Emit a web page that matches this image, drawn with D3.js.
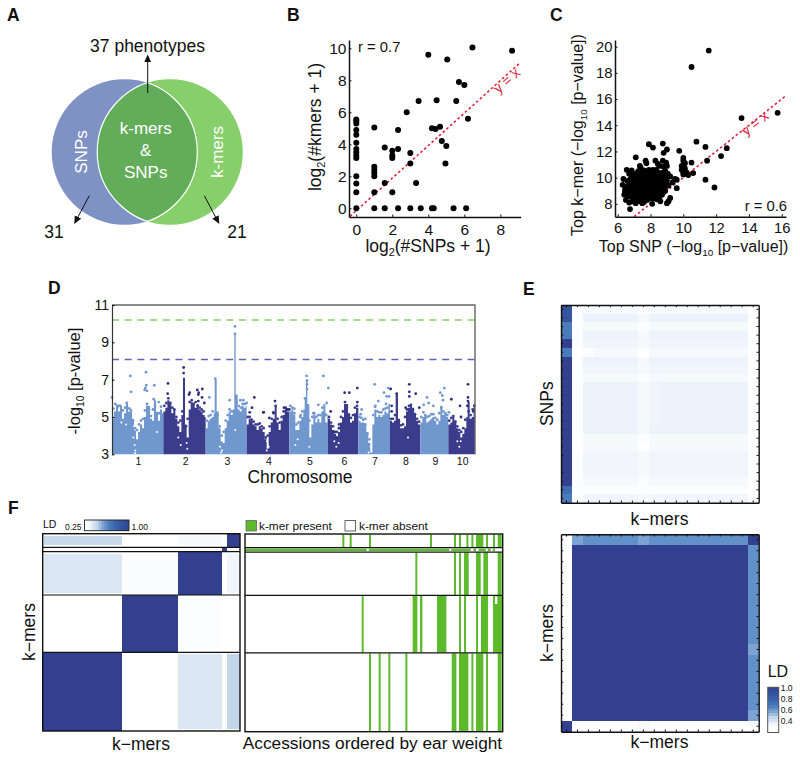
<!DOCTYPE html>
<html><head><meta charset="utf-8">
<script src="https://cdn.jsdelivr.net/npm/d3@7"></script>
<style>
html,body{margin:0;padding:0;background:#fff}
svg{display:block}
text{font-family:"Liberation Sans",Arial,sans-serif;fill:#111}
</style></head><body><div id="c"></div>
<script>
// ---------- Panel A
const vennCounts = {shared: 37, snpsOnly: 31, kmersOnly: 21};
const vennSets = [{name:"SNPs", cx:-1, color:"#7f92c4"}, {name:"k-mers", cx:1, color:"#86cf6b"}];

// ---------- Panel B
const bSnps  = [0,0,0,0,0,0,0,0,0,0,0,0,0,0, 1,1,1,1,1,1,1, 1.58,1.58,1.58, 2,2,2,2, 2.32,2.32,2.32, 2.8, 3,3,3, 3.32, 3.46, 3.58, 4, 4.2,4.2, 4.3, 4.4, 4.46, 4.65, 4.75, 4.95, 5, 5.05, 5.4, 5.55, 5.7, 6, 6.1, 6.2, 6.45, 8.65];
const bKmers = [0,1,1.55,2,3.15,3.3,3.5,3.7,4.1,4.6,4.9,5.3,5.45,5.55, 0,1,2,2.2,2.4,2.6,5.05, 0,1.58,3.8, 1,3.15,3.3,3.6, 0,3.7,4.9, 6, 0,2.8,3.45, 1.58, 6.7, 0, 9.6, 0,5, 0, 4.95, 6.75, 5.1, 4.2, 2.8, 3.9, 9.3, 0, 6.7, 7.9, 7.7, 0, 5.6, 10.05, 9.85];

// ---------- Panel C
const cOutliers = [[11.55,19.7],[10.5,18.45],[15.75,14.95],[13.55,14.55],[10.8,12.75],[11.35,12.35],[12.65,12.25],[12.3,11.65],[11.45,11.3],[10.5,11.15],[11.35,9.85],[11.9,9.25],[10.6,10.35],[7.9,12.55],[8.75,12.6],[8.15,12.3],[9,12.15],[8.8,11.9],[9.75,12.05],[7.1,11.55]];
const cUpper = [[6.35,9.9],[6.3,9.45],[6.55,10.6],[6.85,10.55],[6.7,10.3],[7.35,10.9],[7.4,10.75],[7.7,11.3],[7.75,11.1],[7.9,10.6],[8.15,10.6],[8.3,11.3],[8.45,11.05],[8.55,10.9],[8.75,11.3],[8.95,11.15],[8.8,10.85],[8.75,10.4],[8.9,10.5],[9.05,10.3],[9.2,10.1],[9.5,9.9],[9.6,9.85],[9.35,9.65],[9.6,9.2],[9,10.9]];
const cRightColumn = [[10,11.5],[10,11.3],[10.1,11.1],[9.9,10.9],[9.9,10.6],[10,10.4],[10,10.25],[10.2,10.4],[10.3,10.2],[10.1,10.7]];
const cLower = [[9.2,8.45],[9.1,8.2],[9,8.05],[8.6,8.2],[8.4,8.35],[8.1,8],[7.5,8.05],[8.9,9],[9.1,9.4],[8.9,9.7],[8.85,9.2],[6.75,7.6],[6.4,8.7],[6.5,8.3],[6.6,8.6],[6.7,8.1],[6.9,8.2],[7,8.4],[7.1,8.05],[7.3,8.3],[7.4,8.2],[7.6,8.15],[7.8,8.3]];
const cCluster = [
[6.45,9.1],[6.6,8.9],[6.55,9.3],[6.7,9.5],[6.6,9.75],[6.8,8.55],[6.85,8.85],[6.95,9.15],[6.8,9.3],[6.9,9.7],[6.85,10],[7,10.25],[7.05,8.65],[7.1,8.95],[7.15,9.3],[7.05,9.55],[7.2,9.85],[7.1,10.1],[7.2,8.4],[7.3,8.7],[7.35,9.05],[7.3,9.4],[7.4,9.6],[7.3,9.95],[7.4,10.25],[7.25,10.5],[7.5,8.45],[7.55,8.8],[7.5,9.15],[7.6,9.4],[7.5,9.75],[7.6,10],[7.55,10.3],[7.6,10.55],[7.7,8.5],[7.75,8.75],[7.7,9.05],[7.8,9.3],[7.7,9.6],[7.8,9.9],[7.75,10.2],[7.9,10.4],[7.95,8.6],[7.9,8.9],[8,9.2],[7.95,9.5],[8,9.75],[7.95,10.05],[8.1,10.3],[8.15,8.4],[8.15,8.75],[8.2,9.05],[8.15,9.35],[8.2,9.6],[8.15,9.9],[8.3,10.15],[8.4,8.65],[8.35,8.95],[8.4,9.25],[8.35,9.5],[8.45,9.8],[8.45,10.4],[8.55,8.55],[8.6,8.85],[8.55,9.15],[8.65,9.4],[8.6,9.65],[8.6,10.05],[8.7,8.7],[8.75,9.1],[8.7,9.85],[8.8,10.1],[8.95,10.05],[8.35,10.6],[7.05,9.85],[6.65,9.05],[7.2,8.6],[6.95,9.45],[7.45,8.95],[7.85,8.45],
[6.55,8.75],[6.75,8.75],[6.7,9.1],[6.45,8.95],[6.9,8.55],[6.95,8.9],[6.75,9.85],[6.95,10.1],[7.15,8.8],[7.2,9.1],[7.25,9.6],[7.15,10.3],[7.35,8.55],[7.42,9.25],[7.42,9.8],[7.35,10.5],[7.6,8.6],[7.62,8.95],[7.65,9.25],[7.68,9.8],[7.7,10.4],[7.85,8.7],[7.88,9.1],[7.85,9.65],[7.9,10.2],[8.05,8.45],[8.05,9],[8.08,9.45],[8.05,9.95],[8.25,8.55],[8.28,9.2],[8.3,9.75],[8.25,10.35],[8.45,8.5],[8.5,9],[8.48,9.6],[8.45,10.1],[8.65,9],[8.7,9.55],[8.8,8.9],[8.85,9.45],[9,9.5],[9,9.8],[8.62,10.3]
];

// ---------- Panel D (positions along the concatenated genome, values are -log10 p)
const chrLabels = ["1","2","3","4","5","6","7","8","9","10"];
const chrLabelPos = [79,221,346,471,594,697,789,882,970,1052];
const chrColors = ["#7197cf","#3c3c8c"];
const chr1Env = [[0,4.9],[6,5.3],[12,5.6],[18,5.3],[24,5.6],[30,4.9],[36,5.2],[42,5.7],[48,5.3],[54,5.3],[60,4.9],[66,4.3],[72,3.8],[78,4.2],[84,4.6],[90,4.4],[96,5],[102,5.6],[108,5.6],[114,4.9],[120,4.8],[126,5.9],[132,5.2],[138,4.8],[144,5.4],[150,5.2],[154,5.2]];
const chr2Env = [[154,5.3],[160,5.5],[166,5.9],[172,5.7],[178,5.2],[184,5.4],[190,4.9],[196,4.5],[202,4.2],[208,5.1],[213,7.1],[219,4.6],[224,3.9],[230,5.4],[236,5.8],[242,5.7],[248,5.5],[254,5.7],[260,5.4],[266,5.3],[272,5.1],[278,5],[281,5]];
const chr3Env = [[281,4.4],[287,4.8],[293,4.9],[299,5],[305,5.2],[308,7],[314,5.3],[320,4.4],[326,3.7],[332,3.6],[338,4.4],[344,4.8],[350,5.3],[356,5.1],[362,5.4],[367,9.4],[371,6.2],[377,5.4],[383,5.3],[389,5.6],[395,5.5],[401,5.6],[404,5.6]];
const chr4Env = [[404,4.6],[410,4.9],[416,4.8],[422,4.6],[428,4.5],[434,4.3],[440,4.5],[446,4.4],[452,4.2],[458,3.8],[464,3.3],[470,4.2],[476,4.7],[482,4.9],[488,5.6],[494,4.7],[500,4.3],[506,4.8],[512,5.1],[518,5.4],[524,5.3],[532,5.3]];
const chr5Env = [[532,5.3],[538,5.4],[544,5.1],[550,4.3],[556,4.3],[562,4.8],[568,5],[574,5.4],[578,6],[582,7],[586,5.7],[592,3.9],[598,4.6],[604,5.1],[610,4.7],[616,4.9],[622,4.7],[628,5.3],[634,5.7],[640,4.7],[646,5],[648,5]];
const chr6Env = [[648,4.9],[654,4.6],[660,4.3],[666,4.1],[672,3.9],[678,4.2],[684,4.7],[690,5],[696,5.7],[702,5.7],[708,5.2],[714,4.7],[720,4.8],[726,5.2],[732,5.5],[739,5.5]];
const chr7Env = [[739,4.8],[745,4.7],[751,4.7],[757,4.6],[763,4.2],[769,3.6],[775,3.1],[781,4.6],[787,5.4],[793,5],[799,5.1],[805,5],[811,5.1],[817,5.3],[823,5.2],[829,5.7],[834,5.7]];
const chr8Env = [[834,4.8],[840,4.7],[846,4.8],[851,6.2],[858,4.9],[864,4.4],[870,4.4],[876,4.5],[882,5.3],[888,5.5],[894,5.7],[900,5.5],[906,5.1],[912,4.8],[918,4.6],[925,4.6]];
const chr9Env = [[925,4.7],[931,5],[937,5.1],[943,4.7],[949,4.8],[955,4.9],[961,5],[967,4.8],[973,4.6],[979,4.8],[985,5.6],[991,5.1],[997,5.2],[1003,5],[1009,5]];
const chr10Env = [[1009,4.6],[1015,4.7],[1021,5],[1027,4.8],[1033,4.4],[1039,4.2],[1045,3.9],[1051,4.1],[1057,4.4],[1063,5],[1067,5.8],[1073,4.9],[1079,5],[1085,5.7],[1089,5.7]];
const chrEnvs = [chr1Env,chr2Env,chr3Env,chr4Env,chr5Env,chr6Env,chr7Env,chr8Env,chr9Env,chr10Env];
const lightHits = [[0,6.05],[55,7.2],[57,6.35],[102,7.4],[100,6.55],[98,6.45],[103,6.7],[105,6.4],[127,6.7],[20,5.6],[15,5.6],[25,5.6],[44,5.75],[125,5.95],[140,5.8],[292,6.05],[353,5.9],[369,9.85],[369,9.45],[394,5.9],[385,5.9],[404,5.75],[310,7.05],[584,7.2],[585,6.95],[585,6.75],[585,6.5],[634,7.2],[649,6.55],[644,5.75],[619,5.65],[547,5.45],[566,5.1],[604,5.2],[579,6],[788,6.75],[816,6.3],[829,6.55],[831,6.1],[824,6.1],[799,5.85],[789,5.55],[749,5.4],[822,5.7],[945,6.05],[935,5.65],[950,5.75],[964,5.6],[997,6.55],[985,6.3],[991,6.15],[993,5.9],[1011,5.25],[746,5.15],[760,4.9]];
const darkHits = [[168,6.8],[167,6.25],[215,7.65],[215,7.35],[233,6.3],[231,6.2],[256,6.45],[259,6.2],[271,6.5],[270,6.05],[259,5.85],[277,5.75],[260,6.3],[427,6.05],[420,5.5],[413,5.25],[455,5.25],[489,5.85],[484,5.25],[454,5.25],[516,5.5],[524,5.4],[532,5.4],[472,4.95],[698,6.3],[712,6.3],[736,6.55],[736,5.8],[656,5.3],[699,5.8],[681,4.4],[666,4.2],[674,3.9],[836,6.5],[892,6.75],[892,6.35],[892,6.1],[911,6.25],[854,6.25],[839,5.3],[839,5.6],[881,5.5],[922,5.5],[1018,5.95],[1044,5.6],[1068,6.75],[1068,6.05],[1068,5.85],[1047,5],[1087,5.6],[1084,5.3],[1066,5.6]];
const lightFringe = [[4,5.45],[10,5.7],[16,5.5],[27,5.3],[33,5.35],[39,5.5],[46,5.5],[52,5.45],[57,5.35],[63,4.8],[69,4.4],[75,4.3],[81,4.6],[87,4.8],[93,4.9],[99,5.35],[105,5.7],[111,5.4],[117,5.05],[123,5.4],[129,5.6],[135,5.2],[141,5.2],[147,5.55],[284,4.8],[290,5.05],[296,5.1],[302,5.3],[317,5.1],[323,4.5],[329,4],[335,4.2],[341,4.8],[347,5.1],[353,5.4],[359,5.3],[374,5.8],[380,5.6],[386,5.5],[392,5.7],[398,5.7],[535,5.6],[541,5.5],[547,5.2],[553,4.6],[559,4.7],[565,5],[571,5.3],[592,4.8],[601,5],[607,5.2],[613,5],[619,5.1],[625,5.1],[631,5.5],[637,5.2],[643,5.1],[742,5],[748,4.95],[754,4.85],[760,4.6],[766,4.1],[772,3.8],[784,5.1],[790,5.6],[796,5.3],[802,5.25],[808,5.25],[814,5.4],[820,5.45],[826,5.5],[928,5],[934,5.25],[940,5.1],[946,5],[952,5.05],[958,5.15],[964,5.15],[970,4.95],[976,4.85],[982,5.2],[988,5.5],[994,5.3],[1000,5.2],[1006,5.1]];
const darkFringe = [[157,5.6],[163,5.75],[169,6],[175,5.75],[181,5.5],[187,5.4],[193,5],[199,4.7],[205,4.8],[211,5.3],[222,4.5],[227,4.9],[233,5.8],[239,5.9],[245,5.7],[251,5.8],[257,5.6],[263,5.5],[269,5.4],[275,5.3],[407,5],[413,5],[419,4.85],[425,4.75],[431,4.6],[437,4.6],[443,4.65],[449,4.5],[455,4.4],[461,3.9],[467,4],[473,4.5],[479,4.9],[485,5.2],[491,5.6],[497,4.9],[503,4.7],[509,5],[515,5.3],[521,5.5],[527,5.4],[651,5],[657,4.7],[663,4.5],[669,4.2],[675,4.2],[681,4.6],[687,5],[693,5.3],[705,5.5],[711,5.1],[717,4.95],[723,5.1],[729,5.5],[735,5.6],[837,4.9],[843,4.9],[849,5.1],[861,4.75],[867,4.55],[873,4.6],[879,5],[885,5.4],[891,5.6],[897,5.65],[903,5.4],[909,5.15],[915,4.9],[921,4.75],[1012,4.8],[1018,4.95],[1024,5.05],[1030,4.75],[1036,4.5],[1042,4.3],[1048,4.2],[1054,4.4],[1060,4.85],[1070,5.3],[1076,5.1],[1082,5.4]];
const gapSpecks = [[64,3.9],[68,3.5],[70,3.2],[72,4.3],[66,4.5],[76,3.9],[69,3.05],[42,4.6],[28,4.7],[135,4.2],[199,3.9],[206,3.5],[224,3.6],[228,4],[226,3.3],[324,3.4],[327,3.1],[330,3.2],[370,4.3],[470,3.4],[464,3.2],[465,3.7],[770,3.1],[776,3.4],[771,3.8],[775,4.2],[888,3.9],[1042,3.4],[1046,3.7],[1036,3.7],[673,3.4],[667,3.7],[680,3.6],[550,3.5],[557,3.8],[592,3.4]];
const yThresholds = [{v:10.2,color:"#85d168"},{v:8.08,color:"#5f63b4"}];

// ---------- Panel E heatmaps (LD values)
const w=.25,d=.28,c=.31,b=.33,a=.35,H=1,m=.6,s=.55,n=.66,k=.85;
const ldUpper = [
[k,d,c,c,c,c,c,d,c,c,c,c,c,c,c,c,c,w],
[k,d,a,a,a,a,a,c,a,a,a,a,a,a,a,a,a,w],
[n,d,c,c,c,c,c,d,c,c,c,c,c,c,c,c,c,w],
[n,d,a,a,a,a,a,c,a,a,a,a,a,a,a,a,a,w],
[H,d,b,b,b,b,b,c,b,b,b,b,b,b,b,b,b,w],
[n,w,d,c,c,c,c,w,c,c,c,c,c,c,c,c,c,w],
[H,d,a,a,a,a,a,c,a,a,a,a,a,a,a,a,a,w],
[H,d,b,b,b,b,b,c,b,b,b,b,b,b,b,b,b,w],
[H,d,c,c,c,c,c,d,c,c,c,c,c,c,c,c,c,w],
[H,d,a,a,a,a,a,c,b,a,a,a,a,a,a,a,a,w],
[H,d,a,a,a,a,a,c,b,a,a,a,a,a,a,a,a,w],
[H,d,a,a,a,a,a,c,b,a,a,a,a,a,a,a,a,w],
[H,d,a,a,a,a,a,c,b,a,a,a,a,a,a,a,a,w],
[H,d,a,a,a,a,a,c,b,a,a,a,a,a,a,a,a,w],
[H,d,a,a,a,a,a,c,a,a,a,a,a,a,a,a,a,w],
[H,d,c,c,c,c,c,d,c,c,c,c,c,c,c,c,c,w],
[H,w,c,c,c,c,c,w,c,c,c,c,c,c,c,c,c,w],
[H,d,b,b,b,b,b,c,b,b,b,b,b,b,b,b,b,w],
[H,d,b,b,b,b,b,c,b,b,b,b,b,b,b,b,b,w],
[H,d,b,b,b,b,b,c,b,b,b,b,b,b,b,b,b,w],
[H,d,c,c,c,c,c,d,c,c,c,c,c,c,c,c,c,w],
[.72,d,d,d,d,d,d,d,d,d,d,d,d,d,d,d,d,w],
[n,d,b,b,b,b,b,c,b,b,b,b,b,b,b,b,b,w]
];
const ldLower = [
[w,s,m,m,m,m,m,s,m,m,m,m,m,m,m,m,m,H],
[d,H,H,H,H,H,H,H,H,H,H,H,H,H,H,H,H,m],
[d,H,H,H,H,H,H,H,H,H,H,H,H,H,H,H,H,m],
[d,H,H,H,H,H,H,H,H,H,H,H,H,H,H,H,H,m],
[d,H,H,H,H,H,H,H,H,H,H,H,H,H,H,H,H,m],
[d,H,H,H,H,H,H,H,H,H,H,H,H,H,H,H,H,m],
[d,H,H,H,H,H,H,H,H,H,H,H,H,H,H,H,H,m],
[d,H,H,H,H,H,H,H,H,H,H,H,H,H,H,H,H,m],
[d,H,H,H,H,H,H,H,H,H,H,H,H,H,H,H,H,m],
[d,H,H,H,H,H,H,H,H,H,H,H,H,H,H,H,H,m],
[d,H,H,H,H,H,H,H,H,H,H,H,H,H,H,H,H,s],
[d,H,H,H,H,H,H,H,H,H,H,H,H,H,H,H,H,m],
[d,H,H,H,H,H,H,H,H,H,H,H,H,H,H,H,H,m],
[d,H,H,H,H,H,H,H,H,H,H,H,H,H,H,H,H,m],
[d,H,H,H,H,H,H,H,H,H,H,H,H,H,H,H,H,m],
[d,H,H,H,H,H,H,H,H,H,H,H,H,H,H,H,H,m],
[d,H,H,H,H,H,H,H,H,H,H,H,H,H,H,H,H,s],
[H,d,d,d,d,d,d,c,d,d,d,d,d,d,d,d,d,d]
];
const ldLegendTicks = [1,.8,.6,.4];

// ---------- Panel F
const fRowEdges = [0,41,54,184,356,592];
const fColEdges = [0,237,407,539,553,592];
const ldBlocks = [
[.44,w,.31,w,H],
[w,w,w,H,w],
[.38,.29,H,w,.34],
[w,H,.28,w,w],
[H,w,.38,w,.45]
];
const presence0 = [[292,6],[314,6],[372,6],[555,6],[627,6],[642,6],[664,6],[679,6],[693,22],[723,6],[744,6],[758,12]];
const presence1 = [[0,365],[371,242],[619,58],[685,8],[701,21],[728,9],[743,7]];
const presence2 = [[511,6],[627,6],[642,6],[657,14],[693,14],[715,14],[758,12]];
const presence3 = [[350,6],[503,14],[525,7],[576,28],[642,6],[657,6],[693,6],[708,21],[744,27]];
const presence4 = [[372,6],[401,6],[430,6],[481,6],[620,14],[642,28],[679,6],[693,22],[723,6],[758,12]];
const presenceRows = [presence0,presence1,presence2,presence3,presence4];
const presenceNotch = [[750,7]];

const svg = d3.select("#c").append("svg").attr("width",800).attr("height",760);

function txt(x,y,str,size,opt={}){
  const t = svg.append("text").attr("x",x).attr("y",y).attr("font-size",size).text(str);
  if(opt.anchor) t.attr("text-anchor",opt.anchor);
  if(opt.weight) t.attr("font-weight",opt.weight);
  if(opt.fill) t.style("fill",opt.fill);
  if(opt.rot!==undefined) t.attr("transform",`rotate(${opt.rot} ${x} ${y})`);
  return t;
}
// text with a subscript: parts = [before, sub, after]
function subTxt(x,y,parts,size,opt={}){
  const t = svg.append("text").attr("x",x).attr("y",y).attr("font-size",size).attr("text-anchor","middle");
  if(opt.rot!==undefined) t.attr("transform",`rotate(${opt.rot} ${x} ${y})`);
  t.append("tspan").text(parts[0]);
  t.append("tspan").attr("dy",size*.22).attr("font-size",size*.62).text(parts[1]);
  t.append("tspan").attr("dy",-size*.22).text(parts[2]);
}
function arrow(x1,y1,x2,y2){
  svg.append("line").attr("x1",x1).attr("y1",y1).attr("x2",x2).attr("y2",y2).attr("stroke","#111").attr("stroke-width",1).attr("marker-end","url(#arr)");
}
svg.append("defs").append("marker").attr("id","arr").attr("viewBox","0 0 10 10").attr("refX",8).attr("refY",5)
  .attr("markerUnits","userSpaceOnUse").attr("markerWidth",8).attr("markerHeight",8).attr("orient","auto")
  .append("path").attr("d","M0,0.5L10,5L0,9.5Z").attr("fill","#111");

[["A",7,21],["B",287,21],["C",550,21],["D",48,294],["E",523,295],["F",8,514]].forEach(p=>txt(p[1],p[2],p[0],17.5,{weight:"bold"}));

// ---------- A
{
  const vx = d3.scaleLinear().domain([-1,1]).range([124.5,170]);
  const cy=152, r=72.8;
  const g = svg.append("g");
  g.selectAll("circle").data(vennSets).join("circle").attr("cx",d=>vx(d.cx)).attr("cy",cy).attr("r",r).attr("fill",d=>d.color);
  svg.select("defs").append("clipPath").attr("id","vclip").append("circle").attr("cx",vx(-1)).attr("cy",cy).attr("r",r);
  g.append("circle").attr("cx",vx(1)).attr("cy",cy).attr("r",r).attr("fill","#63ad5a").attr("clip-path","url(#vclip)");
  g.append("circle").attr("cx",vx(1)).attr("cy",cy).attr("r",r).attr("fill","none").attr("stroke","#fff").attr("stroke-width",1.2).attr("clip-path","url(#vclip)");
  svg.select("defs").append("clipPath").attr("id","vclip2").append("circle").attr("cx",vx(1)).attr("cy",cy).attr("r",r);
  g.append("circle").attr("cx",vx(-1)).attr("cy",cy).attr("r",r).attr("fill","none").attr("stroke","#fff").attr("stroke-width",1.2).attr("clip-path","url(#vclip2)");
  txt(147.5,52,vennCounts.shared+" phenotypes",17.5,{anchor:"middle"});
  arrow(147.7,93,147.7,56);
  arrow(89.3,195.7,75,222.5);
  arrow(204.3,195.7,218.5,222.5);
  txt(54,238,String(vennCounts.snpsOnly),17.5,{anchor:"middle"});
  txt(237,238,String(vennCounts.kmersOnly),17.5,{anchor:"middle"});
  txt(145.7,134,"k-mers",17,{anchor:"middle",fill:"#fff"});
  txt(145.7,156,"&",17,{anchor:"middle",fill:"#fff"});
  txt(145.7,178,"SNPs",17,{anchor:"middle",fill:"#fff"});
  txt(86.5,152,"SNPs",17,{anchor:"middle",fill:"#fff",rot:-90});
  txt(222.5,152,"k-mers",17,{anchor:"middle",fill:"#fff",rot:-90});
}

function scatterAxes(x,y,xt,yt,fs){
  const gx = svg.append("g").attr("transform",`translate(0,${y.range()[0]})`)
    .call(d3.axisBottom(x).tickValues(xt).tickSizeInner(-2.5).tickSizeOuter(0).tickPadding(fs*.42));
  const gy = svg.append("g").attr("transform",`translate(${x.range()[0]},0)`)
    .call(d3.axisLeft(y).tickValues(yt).tickSizeInner(-2.5).tickSizeOuter(0).tickPadding(2.5));
  [gx,gy].forEach(g=>{
    g.selectAll("text").attr("font-size",fs).attr("font-family",null).style("fill","#111");
    g.selectAll("line").attr("stroke","#111");
    g.select(".domain").attr("stroke","#111").attr("stroke-width",1.5);
  });
}

// ---------- B
{
  const x = d3.scaleLinear().domain([-.405,9.13]).range([349,520.7]);
  const y = d3.scaleLinear().domain([-.544,10.52]).range([217,40]);
  svg.append("line").attr("x1",x(-.35)).attr("y1",y(-.5)).attr("x2",x(9.1)).attr("y2",y(9.1))
    .attr("stroke","#e0203c").attr("stroke-width",1.6).attr("stroke-dasharray","2.5 2.5");
  svg.append("g").selectAll("circle").data(bSnps).join("circle").attr("cx",d=>x(d)).attr("cy",(d,i)=>y(bKmers[i])).attr("r",3).attr("fill","#000");
  scatterAxes(x,y,[0,2,4,6,8],[0,2,4,6,8,10],15.5);
  txt(358,52,"r = 0.7",14.8);
  txt(510,84,"y = x",14,{anchor:"middle",fill:"#e0203c",rot:-42});
  subTxt(428,252,["log","2","(#SNPs + 1)"],17.5);
  subTxt(321,127,["log","2","(#kmers + 1)"],17.5,{rot:-90});
}

// ---------- C
{
  const x = d3.scaleLinear().domain([5.835,16.26]).range([615,786]);
  const y = d3.scaleLinear().domain([7.02,20.51]).range([216.7,40]);
  svg.append("line").attr("x1",x(7)).attr("y1",y(7.02)).attr("x2",x(16.25)).attr("y2",y(16.25))
    .attr("stroke","#e0203c").attr("stroke-width",1.6).attr("stroke-dasharray","2.5 2.5");
  const pts = cOutliers.concat(cUpper,cRightColumn,cLower,cCluster);
  svg.append("g").selectAll("circle").data(pts).join("circle").attr("cx",d=>x(d[0])).attr("cy",d=>y(d[1])).attr("r",2.9).attr("fill","#000");
  scatterAxes(x,y,[6,8,10,12,14,16],[8,10,12,14,16,18,20],14.8);
  txt(787,211,"r = 0.6",14.8,{anchor:"end"});
  txt(758,127,"y = x",14,{anchor:"middle",fill:"#e0203c",rot:-38});
  subTxt(693.6,252,["Top SNP (−log","10"," [p−value])"],16);
  subTxt(583,135,["Top k−mer (−log","10"," [p−value])"],16,{rot:-90});
}

// ---------- D
{
  const x = d3.scaleLinear().domain([0,1089]).range([112,475]);
  const y = d3.scaleLinear().domain([3,11]).range([454.3,305]);
  const area = d3.area().x(d=>x(d[0])).y0(y(3)).y1(d=>y(d[1])).curve(d3.curveStepAfter);
  chrEnvs.forEach((env,i)=>svg.append("path").datum(env).attr("d",area).attr("fill",chrColors[i%2]));
  svg.append("g").selectAll("circle").data(gapSpecks).join("circle").attr("cx",d=>x(d[0])).attr("cy",d=>y(d[1])).attr("r",1).attr("fill","#fff");
  const dots = (data,col,r)=>svg.append("g").selectAll("circle").data(data).join("circle").attr("cx",d=>x(d[0])).attr("cy",d=>y(d[1])).attr("r",r).attr("fill",col);
  dots(lightFringe,chrColors[0],1.4);
  dots(darkFringe,chrColors[1],1.4);
  dots(lightHits,chrColors[0],1.4);
  dots(darkHits,"#2f2f80",1.4);
  yThresholds.forEach(t=>svg.append("line").attr("x1",x(0)).attr("x2",x(1089)).attr("y1",y(t.v)).attr("y2",y(t.v)).attr("stroke",t.color).attr("stroke-width",1.4).attr("stroke-dasharray","7 5.7"));
  svg.append("path").attr("d",`M${x(0)},${y(11)}H${x(1089)}V${y(3)}`).attr("fill","none").attr("stroke","#666").attr("stroke-width",1.4);
  const gy = svg.append("g").attr("transform",`translate(${x(0)},0)`).call(d3.axisLeft(y).tickValues([3,5,7,9,11]).tickFormat(d3.format("d")).tickSizeInner(-2.5).tickSizeOuter(0).tickPadding(3));
  gy.selectAll("text").attr("font-size",14).attr("font-family",null).style("fill","#111");
  gy.select(".domain").attr("stroke","#333").attr("stroke-width",1.2);
  const labelScale = d3.scaleOrdinal().domain(chrLabels).range(chrLabelPos);
  svg.append("g").selectAll("text").data(chrLabels).join("text").attr("x",d=>x(labelScale(d))).attr("y",465).attr("text-anchor","middle").attr("font-size",10.5).text(d=>d);
  txt(300,483,"Chromosome",17.5,{anchor:"middle"});
  subTxt(80,381,["-log","10"," [p-value]"],16.5,{rot:-90});
}

// ---------- colour scale for LD
const ldColor = d3.scaleLinear().domain([.25,.28,.31,.33,.35,.38,.45,.55,.6,.66,.72,.85,1])
  .range(["#ffffff","#fbfdff","#f7fafd","#f2f6fc","#edf3fa","#dce7f4","#c3d7eb","#7da3d3","#6290c8","#4a7bbb","#3f6db3","#33559f","#33408f"]);

// ---------- E
function heat(mat,top,bottom){
  const cols = d3.range(mat[0].length), rows = d3.range(mat.length);
  const x = d3.scaleBand().domain(cols).range([561,758.7]);
  const y = d3.scaleBand().domain(rows).range([top,bottom]);
  const g = svg.append("g").attr("shape-rendering","crispEdges");
  rows.forEach(r=>g.append("g").selectAll("rect").data(mat[r]).join("rect")
    .attr("x",(d,i)=>x(i)).attr("y",y(r)).attr("width",x.bandwidth()+.5).attr("height",y.bandwidth()+.5).attr("fill",d=>ldColor(d)));
  const fmt = ()=>"";
  const ax = [
    d3.axisBottom(x).tickFormat(fmt).tickSizeInner(-2.2).tickSizeOuter(0),
    d3.axisTop(x).tickFormat(fmt).tickSizeInner(-2.2).tickSizeOuter(0),
    d3.axisLeft(y).tickFormat(fmt).tickSizeInner(-2.2).tickSizeOuter(0),
    d3.axisRight(y).tickFormat(fmt).tickSizeInner(-2.2).tickSizeOuter(0)];
  const trans = [`0,${bottom}`,`0,${top}`,`561,0`,`758.7,0`];
  ax.forEach((a,i)=>{
    const gg = svg.append("g").attr("transform",`translate(${trans[i]})`).call(a);
    gg.selectAll("line").attr("stroke","#111");
    gg.select(".domain").attr("stroke","#111").attr("stroke-width",1.4);
  });
}
heat(ldUpper,305,502.7);
heat(ldLower,534.3,731.7);
subTxtPlain(553,403.7,"SNPs",17.5,-90);
subTxtPlain(659.5,525,"k−mers",17.5);
subTxtPlain(659.5,748.3,"k−mers",17.5);
subTxtPlain(553,633,"k−mers",17.5,-90);
function subTxtPlain(x,y,s,size,rot){ txt(x,y,s,size,{anchor:"middle",rot}); }
{
  const ly = d3.scaleLinear().domain([.2,1]).range([732.5,687.3]);
  const steps = d3.range(.2,1,.05);
  svg.append("g").attr("shape-rendering","crispEdges").selectAll("rect").data(steps).join("rect")
    .attr("x",767.7).attr("width",11).attr("y",d=>ly(d+.05)).attr("height",d=>ly(d)-ly(d+.05)+.5).attr("fill",d=>ldColor(Math.max(.25,d)));
  svg.append("rect").attr("x",767.7).attr("y",ly(1)).attr("width",11).attr("height",ly(.2)-ly(1)).attr("fill","none").attr("stroke","#555").attr("stroke-width",1);
  const g = svg.append("g").attr("transform","translate(778.7,0)").call(d3.axisRight(ly).tickValues(ldLegendTicks).tickFormat(d3.format(".1f")).tickSize(0).tickPadding(2));
  g.select(".domain").remove();
  g.selectAll("text").attr("font-size",8.5).attr("font-family",null).style("fill","#111");
  txt(767.7,677,"LD",16);
}

// ---------- F left
{
  const x = d3.scaleLinear().domain([0,592]).range([42.7,240]);
  const y = d3.scaleLinear().domain([0,592]).range([533.7,731]);
  const g = svg.append("g").attr("shape-rendering","crispEdges");
  ldBlocks.forEach((row,r)=>{
    g.append("g").selectAll("rect").data(row).join("rect")
      .attr("x",(d,i)=>x(fColEdges[i])+(d<.9&&i==0?1.3:0)).attr("width",(d,i)=>x(fColEdges[i+1])-x(fColEdges[i])-(d<.9&&i==0?1.3:0))
      .attr("y",d=>y(fRowEdges[r])+(d<.9&&r!=1?2:0)).attr("height",d=>y(fRowEdges[r+1])-y(fRowEdges[r])-(d<.9&&r!=1?4:0))
      .attr("fill",d=>ldColor(d));
  });
  svg.append("g").selectAll("line").data(fRowEdges.slice(1,-1)).join("line").attr("x1",x(0)).attr("x2",x(592)).attr("y1",d=>y(d)).attr("y2",d=>y(d)).attr("stroke","#111").attr("stroke-width",1.2);
  svg.append("rect").attr("x",x(0)).attr("y",y(0)).attr("width",x(592)-x(0)).attr("height",y(592)-y(0)).attr("fill","none").attr("stroke","#111").attr("stroke-width",1.4);
  txt(141,750,"k−mers",17.5,{anchor:"middle"});
  txt(35,632,"k−mers",17.5,{anchor:"middle",rot:-90});
  // LD colour bar
  const lx = d3.scaleLinear().domain([.25,1]).range([84.5,129]);
  svg.append("g").attr("shape-rendering","crispEdges").selectAll("rect").data(d3.range(.25,1,.025)).join("rect")
    .attr("x",d=>lx(d)).attr("width",d=>lx(d+.025)-lx(d)+.4).attr("y",520).attr("height",10.7).attr("fill",d=>ldColor(d));
  svg.append("rect").attr("x",84.5).attr("y",520).attr("width",44.5).attr("height",10.7).attr("fill","none").attr("stroke","#222").attr("stroke-width",.9);
  txt(43,528,"LD",10.5);
  txt(65,529.5,"0.25",8.5);
  txt(131.5,529.5,"1.00",8.5);
}

// ---------- F right
{
  const x = d3.scaleLinear().domain([0,773]).range([245,502.7]);
  const y = d3.scaleLinear().domain([0,592]).range([534,731.7]);
  const green = "#5dba2b";
  const g = svg.append("g");
  presenceRows.forEach((row,r)=>{
    const thin = r==1;
    g.append("g").selectAll("rect").data(row).join("rect")
      .attr("x",d=>x(d[0])).attr("width",d=>x(d[0]+d[1])-x(d[0]))
      .attr("y",y(fRowEdges[r])+(thin?1:.5)).attr("height",y(fRowEdges[r+1])-y(fRowEdges[r])-(thin?2:1))
      .attr("fill",green);
  });
  g.append("g").selectAll("rect").data(presenceNotch).join("rect")
    .attr("x",d=>x(d[0])).attr("width",d=>x(d[0]+d[1])-x(d[0]))
    .attr("y",y(fRowEdges[3])+1).attr("height",7.5).attr("fill","#fff");
  svg.append("g").selectAll("line").data(fRowEdges.slice(1,-1)).join("line").attr("x1",x(0)).attr("x2",x(773)).attr("y1",d=>y(d)).attr("y2",d=>y(d)).attr("stroke","#111").attr("stroke-width",1.2);
  svg.append("rect").attr("x",x(0)).attr("y",y(0)).attr("width",x(773)-x(0)).attr("height",y(592)-y(0)).attr("fill","none").attr("stroke","#111").attr("stroke-width",1.4);
  svg.append("rect").attr("x",246).attr("y",520.5).attr("width",10.5).attr("height",10.5).attr("fill",green).attr("stroke","#666").attr("stroke-width",.8);
  svg.append("rect").attr("x",345).attr("y",520.5).attr("width",10.5).attr("height",10.5).attr("fill","#fff").attr("stroke","#555").attr("stroke-width",.9);
  txt(259,529.5,"k-mer present",11.8);
  txt(359,529.5,"k-mer absent",11.8);
  txt(372.5,749,"Accessions ordered by ear weight",17.3,{anchor:"middle"});
}
</script></body></html>
